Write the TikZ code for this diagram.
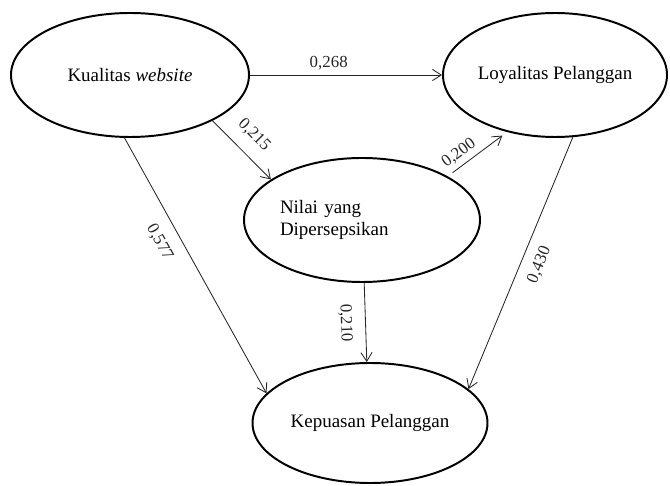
\documentclass[tikz,border=0pt]{standalone}
\usepackage{fontspec}
\setmainfont{Liberation Serif}
\usepackage{tikz}
\usetikzlibrary{arrows.meta, positioning, shapes.geometric}

\begin{document}
\begin{tikzpicture}[
    variabel/.style={ellipse, draw=black, line width=1.4pt, inner sep=0pt,
                     minimum height=3.1cm,
                     font=\fontsize{13.5}{16}\selectfont},
    panah/.style={-{Straight Barb[length=2.2mm, width=2.8mm]}, line width=0.6pt,
                  black!85},
    koef/.style={font=\fontsize{12}{14}\selectfont, sloped}
  ]
    \useasboundingbox (0,0) rectangle (16.75,12.125);

    % Variabel
    \node[variabel, minimum width=5.95cm] (K) at (3.25,10.25)
      {Kualitas \textit{website}};
    \node[variabel, minimum width=5.6cm] (L) at (13.875,10.25)
      {Loyalitas Pelanggan};
    \node[variabel, minimum width=5.9cm, text width=4.1cm, align=left] (N)
      at (9.05,6.625) {Nilai yang\\Dipersepsikan};
    \node[variabel, minimum width=5.875cm, minimum height=3cm] (P)
      at (9.25,1.55) {Kepuasan Pelanggan};

    % Jalur K -> L
    \draw[panah] (K.east) -- node[koef, pos=0.41, above] {0,268} (L.west);

    % Jalur K -> N
    \draw[panah] (K.-29) -- node[koef, pos=0.48, above=1.8mm] {0,215} (N.156);

    % Jalur K -> P
    \draw[panah] (K.265) -- node[koef, pos=0.37, below=2mm] {0,577} (P.164);

    % Jalur N -> L
    \draw[panah, shorten <=1.5mm, shorten >=1.5mm]
      (N.27) -- node[koef, pos=0.31, above] {0,200} (L.-130);

    % Jalur N -> P
    \draw[panah] (N.-88) -- node[koef, midway, below=2mm] {0,210} (P.93);

    % Jalur L -> P
    \draw[panah] (L.-74) -- node[koef, pos=0.48, below=1.5mm] {0,430} (P.19);
  \end{tikzpicture}
\end{document}
